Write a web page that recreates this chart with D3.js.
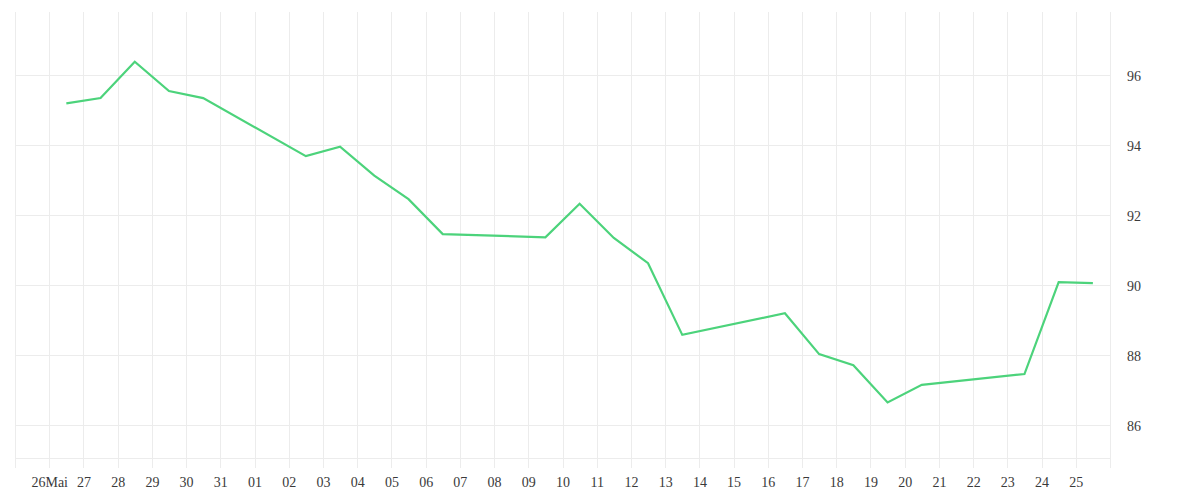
<!DOCTYPE html>
<html>
<head>
<meta charset="utf-8">
<script src="https://cdn.jsdelivr.net/npm/d3@7"></script>
<style>
  html, body { margin: 0; padding: 0; background: #fff; }
  svg text { font-family: "Liberation Serif", serif; font-size: 14px; fill: #3a3a3a; }
</style>
</head>
<body>
<svg id="chart" width="1200" height="500"></svg>
<script>
// Data (2025, values at mid-day)
const dates = ["2025-05-26","2025-05-27","2025-05-28","2025-05-29","2025-05-30",
  "2025-06-02","2025-06-03","2025-06-04","2025-06-05","2025-06-06",
  "2025-06-09","2025-06-10","2025-06-11","2025-06-12","2025-06-13",
  "2025-06-16","2025-06-17","2025-06-18","2025-06-19","2025-06-20",
  "2025-06-23","2025-06-24","2025-06-25"];
const values = [95.19, 95.34, 96.38, 95.54, 95.34,
  93.68, 93.95, 93.12, 92.45, 91.45,
  91.36, 92.32, 91.34, 90.62, 88.57,
  89.19, 88.02, 87.70, 86.64, 87.14,
  87.45, 90.08, 90.05];
const xTickDates = ["2025-05-26","2025-05-27","2025-05-28","2025-05-29","2025-05-30","2025-05-31",
  "2025-06-01","2025-06-02","2025-06-03","2025-06-04","2025-06-05","2025-06-06","2025-06-07",
  "2025-06-08","2025-06-09","2025-06-10","2025-06-11","2025-06-12","2025-06-13","2025-06-14",
  "2025-06-15","2025-06-16","2025-06-17","2025-06-18","2025-06-19","2025-06-20","2025-06-21",
  "2025-06-22","2025-06-23","2025-06-24","2025-06-25"];
const xTickLabels = ["26Mai","27","28","29","30","31","01","02","03","04","05","06","07",
  "08","09","10","11","12","13","14","15","16","17","18","19","20","21","22","23","24","25"];
const yTicks = [86, 88, 90, 92, 94, 96];
const xDomain = ["2025-05-25", "2025-06-26"];
const yDomain = [85.05, 97.8];

const parse = d3.utcParse("%Y-%m-%d");
const noon = s => d3.utcHour.offset(parse(s), 12);

const mLeft = 15, mRight = 1110, mTop = 12, mBottom = 458;
const svg = d3.select("#chart");

const x = d3.scaleUtc().domain(xDomain.map(parse)).range([mLeft, mRight]);
const y = d3.scaleLinear().domain(yDomain).range([mBottom, mTop]);

const grid = "#ececec";

// vertical grid lines (every day, incl. edges)
const allDays = d3.utcDay.range(parse(xDomain[0]), d3.utcDay.offset(parse(xDomain[1]), 1));
svg.append("g").selectAll("line").data(allDays).join("line")
  .attr("x1", d => Math.round(x(d)) + 0.5).attr("x2", d => Math.round(x(d)) + 0.5)
  .attr("y1", mTop).attr("y2", mBottom + 10)
  .attr("stroke", grid).attr("stroke-width", 1);

// horizontal grid lines
svg.append("g").selectAll("line").data(yTicks).join("line")
  .attr("x1", mLeft).attr("x2", mRight)
  .attr("y1", d => Math.round(y(d)) + 0.5).attr("y2", d => Math.round(y(d)) + 0.5)
  .attr("stroke", grid).attr("stroke-width", 1);

// bottom line
svg.append("line")
  .attr("x1", mLeft).attr("x2", mRight)
  .attr("y1", mBottom + 0.5).attr("y2", mBottom + 0.5)
  .attr("stroke", grid).attr("stroke-width", 1);

// x axis labels
const xAxis = d3.axisBottom(x)
  .tickValues(xTickDates.map(parse))
  .tickFormat((d, i) => xTickLabels[i])
  .tickSize(0).tickPadding(0);
const gx = svg.append("g").attr("transform", `translate(0, ${mBottom + 19})`).call(xAxis);
gx.select(".domain").remove();
gx.attr("font-size", null).attr("font-family", null);
gx.selectAll("text").attr("dy", "0.71em").attr("fill", "#3a3a3a");

// y axis labels (right side)
const yAxis = d3.axisRight(y).tickValues(yTicks).tickFormat(d3.format("d")).tickSize(0).tickPadding(0);
const gy = svg.append("g").attr("transform", `translate(${mRight + 17}, 1.5)`).call(yAxis);
gy.select(".domain").remove();
gy.attr("font-size", null).attr("font-family", null);
gy.selectAll("text").attr("fill", "#3a3a3a");

// line
const pts = dates.map((d, i) => ({ date: noon(d), value: values[i] }));
svg.append("path").datum(pts)
  .attr("fill", "none")
  .attr("stroke", "#4cd37b")
  .attr("stroke-width", 2.2)
  .attr("stroke-linejoin", "miter")
  .attr("d", d3.line().x(d => x(d.date)).y(d => y(d.value)));
</script>
</body>
</html>
